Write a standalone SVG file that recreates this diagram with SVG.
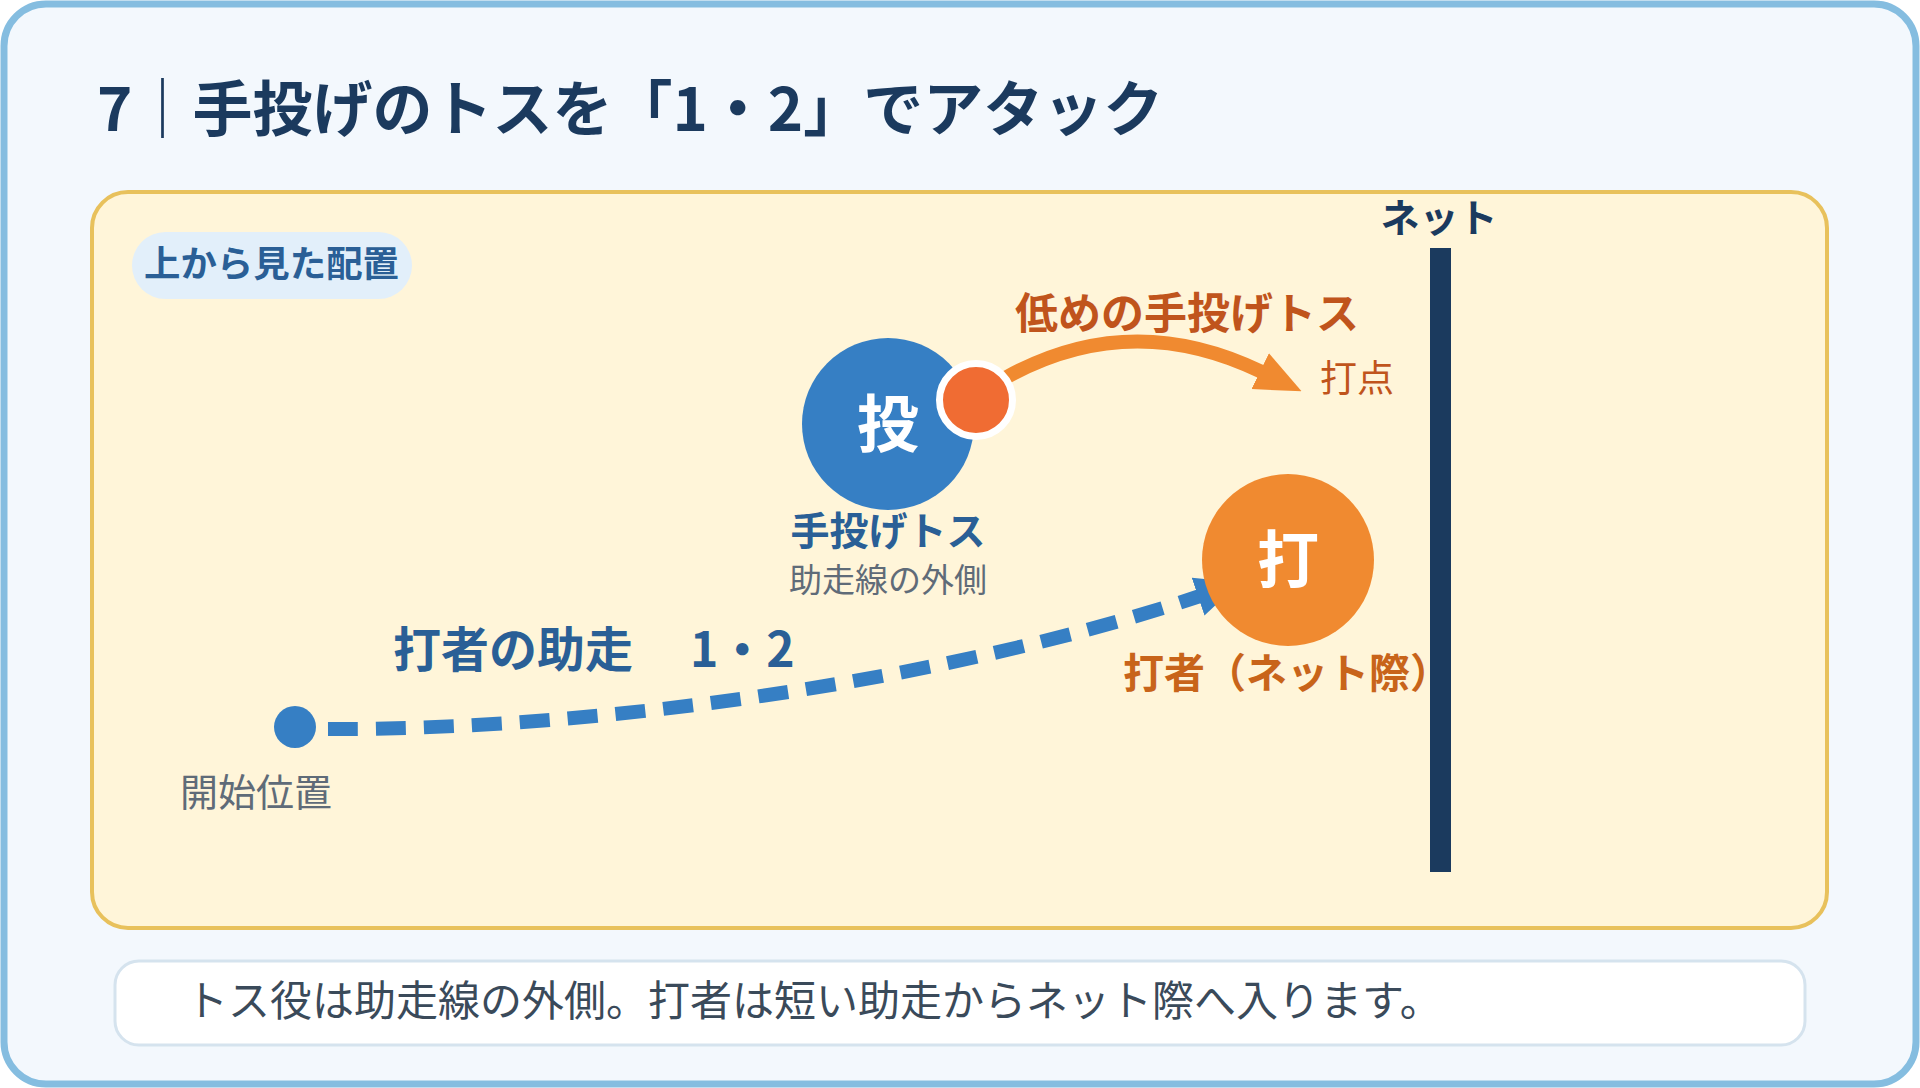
<svg xmlns="http://www.w3.org/2000/svg" width="1920" height="1088" viewBox="0 0 1920 1088">
<style>
text{font-family:"Noto Sans CJK JP","Noto Sans",sans-serif}
.b{font-weight:700}
.navy{fill:#1b3a5e}
.blue{fill:#2a5f96}
.gray{fill:#5f6b78}
.brown{fill:#c0541c}
.org{fill:#c8641a}
.wt{fill:#ffffff;font-weight:700}
</style>
<defs>
<marker id="ahOrange" markerUnits="userSpaceOnUse" markerWidth="46" markerHeight="42" refX="2" refY="21" orient="auto">
<path d="M0,1 L46,21 L0,41 Z" fill="#f08a30"/>
</marker>
<marker id="ahBlue" markerUnits="userSpaceOnUse" markerWidth="44" markerHeight="42" refX="2" refY="21" orient="auto">
<path d="M0,1 L44,21 L0,41 Z" fill="#367fc4"/>
</marker>
</defs>
<g id="frame">
<rect x="4" y="4" width="1912" height="1080" rx="42" fill="#f3f8fd" stroke="#85bde0" stroke-width="7"/>
</g>
<g id="title">
<text x="97" y="131" font-size="60" class="b navy">7｜手投げのトスを「1・2」でアタック</text>
</g>
<g id="panel">
<rect x="92" y="192" width="1735" height="736" rx="36" fill="#fff5d9" stroke="#e8c15c" stroke-width="4"/>
</g>
<g id="badge">
<rect x="132" y="232" width="280" height="67" rx="33.5" fill="#e2effa"/>
<text x="144" y="277" font-size="36" textLength="255" lengthAdjust="spacingAndGlyphs" class="b blue">上から見た配置</text>
</g>
<g id="net">
<rect x="1430" y="248" width="21" height="624" fill="#1b3a5e"/>
<text x="1439" y="232" font-size="39" text-anchor="middle" class="b navy">ネット</text>
</g>
<g id="connectors">
<path id="toss" d="M1005,378 Q1130,308 1262,372" fill="none" stroke="#f08a30" stroke-width="14" marker-end="url(#ahOrange)"/>
<path id="run" d="M328,729 C600,730 950,680 1200,596" fill="none" stroke="#367fc4" stroke-width="14" stroke-dasharray="30 18" marker-end="url(#ahBlue)"/>
</g>
<g id="label-toss">
<text x="1187" y="329" font-size="43" text-anchor="middle" class="b brown">低めの手投げトス</text>
<text x="1320" y="392" font-size="37" class="brown">打点</text>
</g>
<g id="label-run">
<text y="667" font-size="48" class="b blue"><tspan x="393">打者の助走　</tspan><tspan x="690">1・2</tspan></text>
</g>
<g id="node-tosser">
<circle cx="888" cy="424" r="86" fill="#367fc4"/>
<text x="888" y="447" font-size="62" text-anchor="middle" class="wt">投</text>
<text x="888" y="545" font-size="39" text-anchor="middle" class="b blue">手投げトス</text>
<text x="888" y="592" font-size="33" text-anchor="middle" class="gray">助走線の外側</text>
</g>
<g id="node-ball">
<circle cx="976" cy="400" r="36.5" fill="#f06c33" stroke="#ffffff" stroke-width="7"/>
</g>
<g id="node-hitter">
<circle cx="1288" cy="560" r="86" fill="#f08a30"/>
<text x="1288" y="583" font-size="62" text-anchor="middle" class="wt">打</text>
<text x="1123" y="688" font-size="41" class="b org">打者（ネット際）</text>
</g>
<g id="node-start">
<circle cx="295" cy="727" r="21" fill="#367fc4"/>
<text x="180" y="806" font-size="38" class="gray">開始位置</text>
</g>
<g id="caption">
<rect x="115" y="961" width="1690" height="84" rx="24" fill="#ffffff" stroke="#d5e3ee" stroke-width="3"/>
<text x="186" y="1016" font-size="42" fill="#3a4a5a">トス役は助走線の外側。打者は短い助走からネット際へ入ります。</text>
</g>
</svg>
